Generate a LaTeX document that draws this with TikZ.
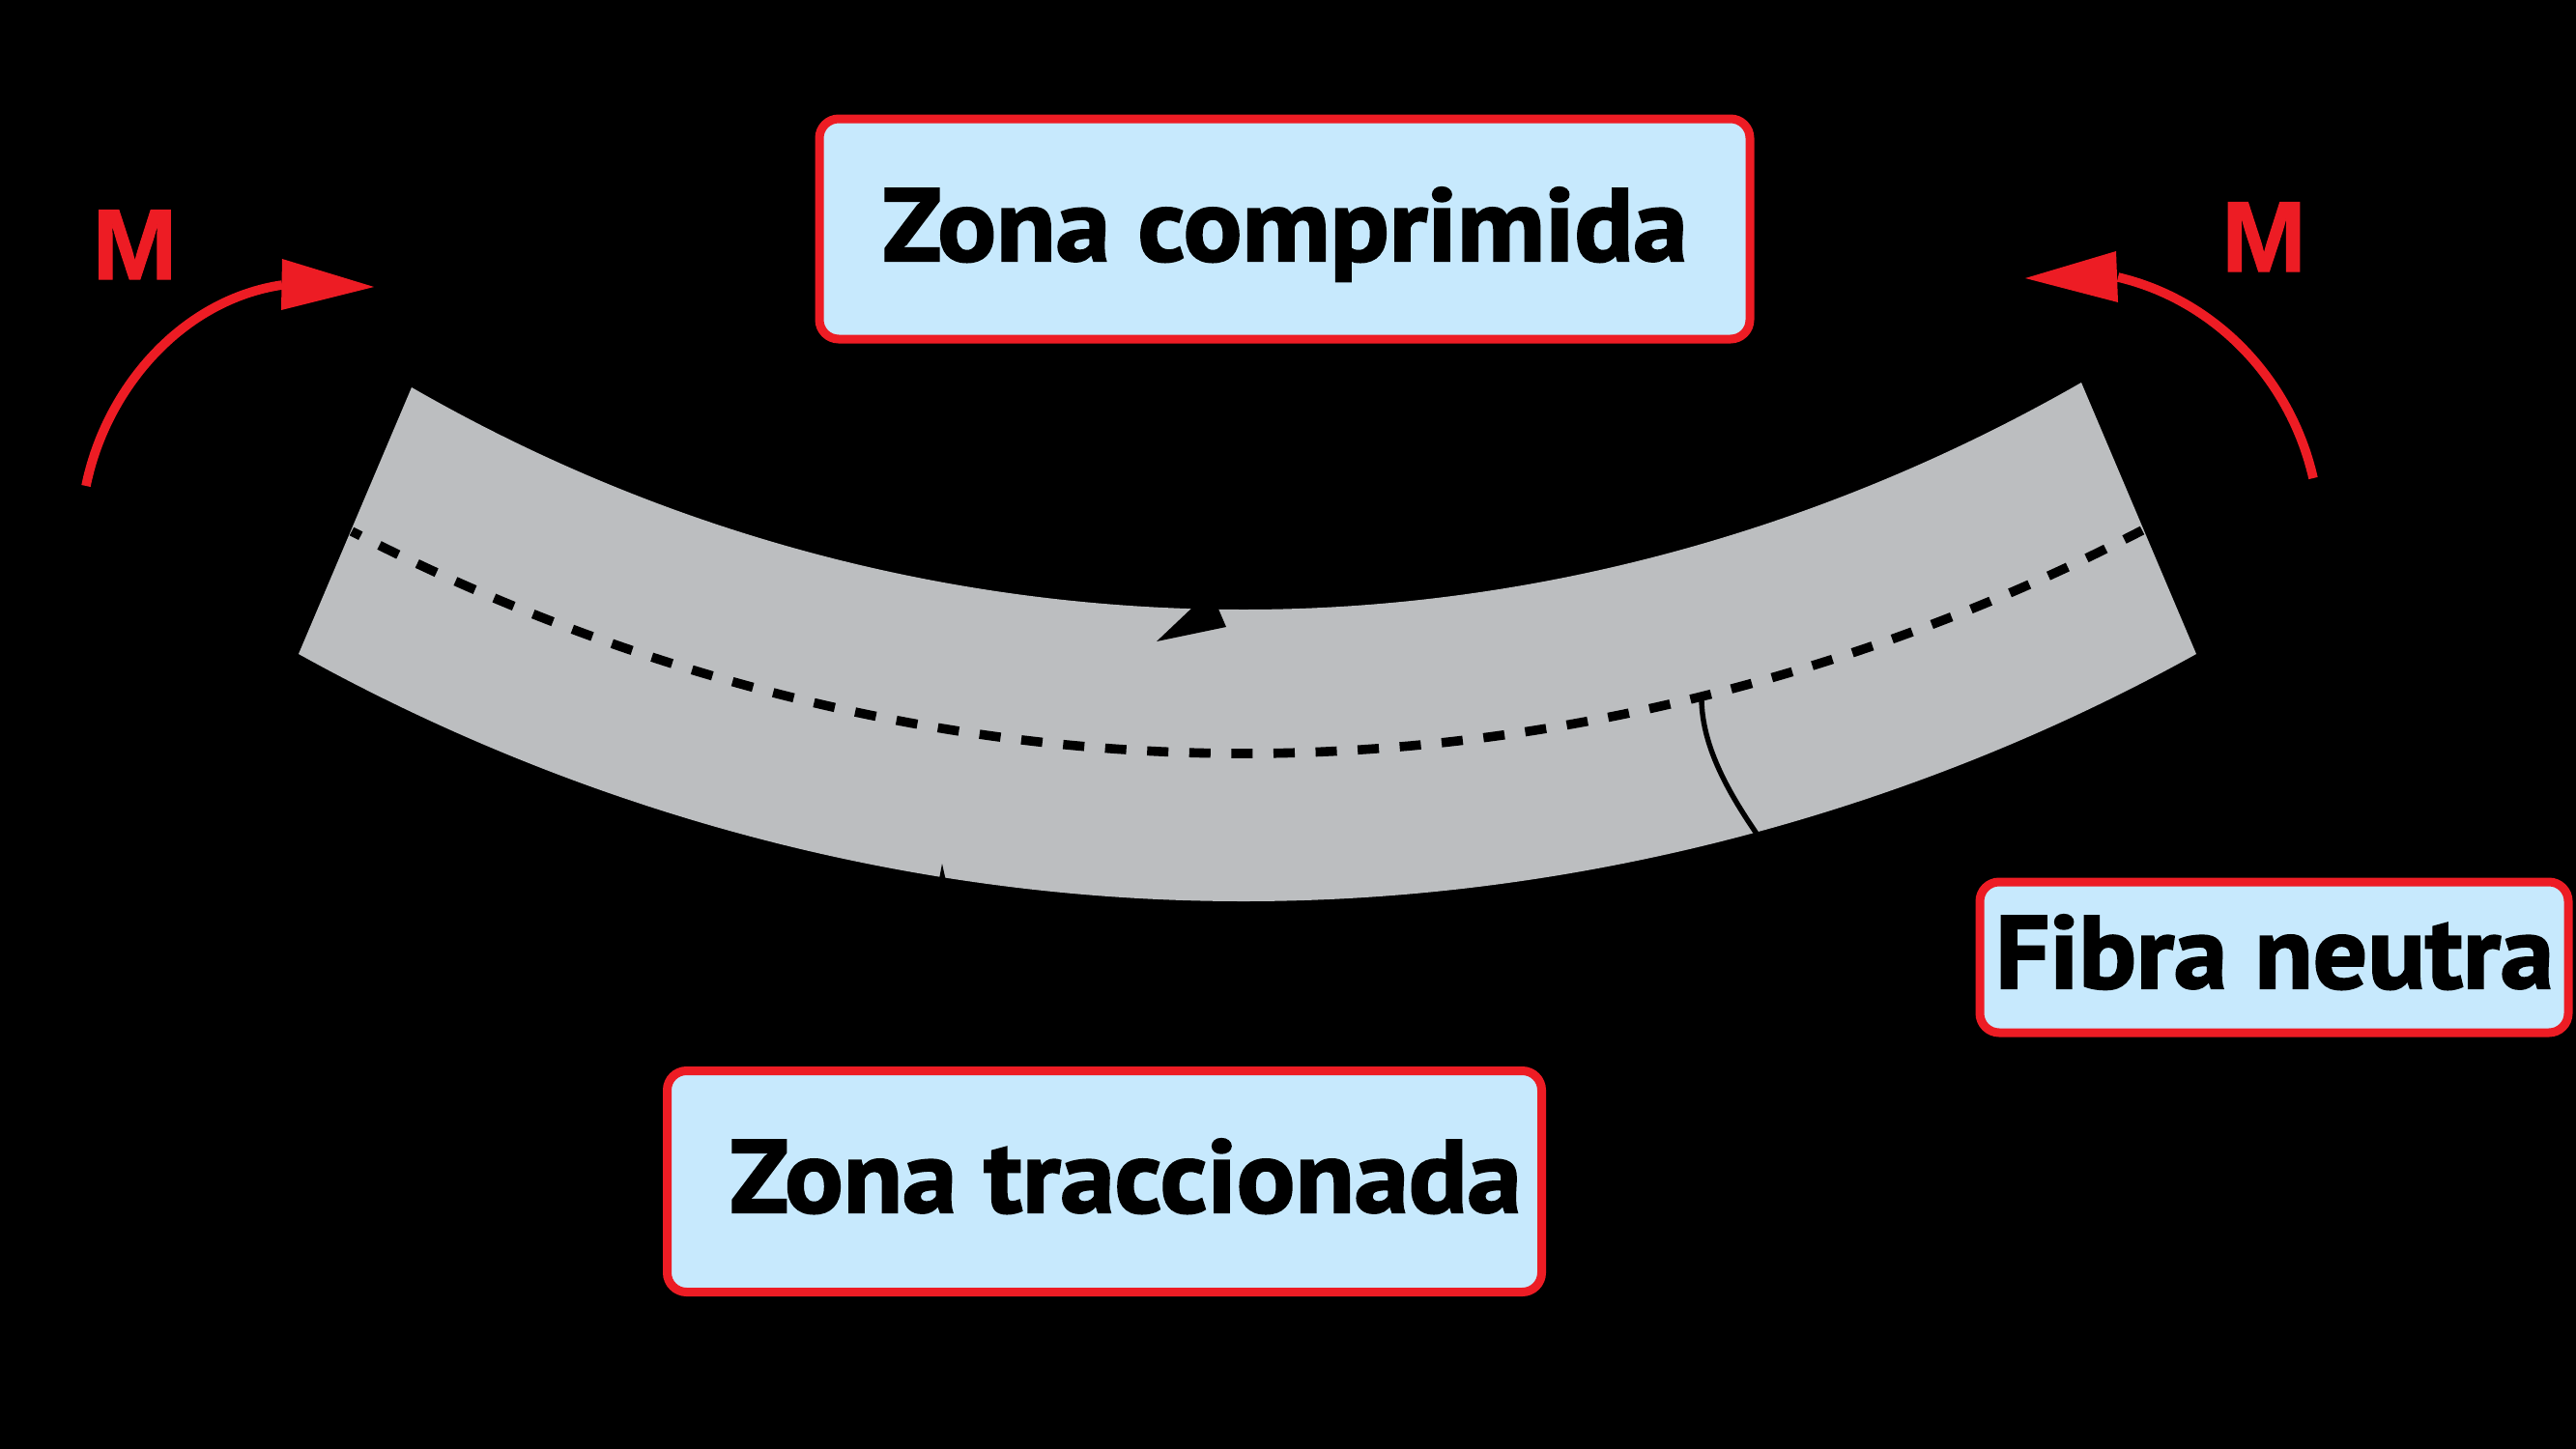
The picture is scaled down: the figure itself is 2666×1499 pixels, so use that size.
\documentclass[tikz,border=0pt]{standalone}
\usepackage{graphicx}
\usepackage{fontspec}
\newfontfamily\lblfont[BoldFeatures={FakeBold=1.9}]{PT Sans}
\newfontfamily\mfont[BoldFeatures={FakeBold=1}]{Liberation Sans}
\definecolor{redline}{HTML}{ED1C24}
\definecolor{boxfill}{HTML}{C7E9FD}
\definecolor{beamgrey}{HTML}{BCBEC0}
\tikzset{
  px/.style={x=0.5pt,y=-0.5pt},
  labelbox/.style={draw=redline,fill=boxfill,line width=4.5pt,rounded corners=10pt,minimum width=#1,inner sep=0pt},
  boxtext/.style={anchor=base,inner sep=0pt,outer sep=0pt,text=black,font=\fontsize{53.5pt}{60pt}\lblfont\bfseries},
  momenttext/.style={anchor=base,inner sep=0pt,outer sep=0pt,text=redline,font=\fontsize{52pt}{60pt}\mfont\bfseries},
  momentline/.style={draw=redline,line width=4.8pt},
  momenthead/.style={fill=redline,draw=none},
  neutral/.style={draw=black,line width=4.8pt,dash pattern=on 11pt off 10.8pt,dash phase=5.8pt},
  marker/.style={fill=black,draw=none}
}
\begin{document}
\begin{tikzpicture}[px]
\useasboundingbox (0,0) rectangle (2666,1499);
\fill[black] (-20,-20) rectangle (2686,1519);
% beam
\coordinate (tl) at (426,401);
\coordinate (tm) at (1287,631);
\coordinate (tr) at (2154,396);
\coordinate (br) at (2273,677);
\coordinate (bm) at (1287,933);
\coordinate (bl) at (309,677);
\fill[beamgrey] (tl) .. controls (688,552) and (984,631) .. (tm)
  .. controls (1590,631) and (1889,548) .. (tr) -- (br)
  .. controls (1974,843) and (1629,933) .. (bm)
  .. controls (945,933) and (608,843) .. (bl) -- cycle;
% neutral fibre
\coordinate (nl) at (364,550);
\coordinate (nm) at (1287,780);
\coordinate (nr) at (2217,549);
\draw[neutral] (nl) .. controls (649,697) and (967,780) .. (nm)
  .. controls (1607,780) and (1932,697) .. (nr);
% marks of the connectors on the beam
\coordinate (fa) at (1761,725);
\coordinate (fb) at (1818,863);
\draw[black,line width=2.7pt] (fa) .. controls (1762,770) and (1785,815) .. (fb);
\fill[marker] (1197,664) -- (1235,628) -- (1260,628) -- (1269,649) -- cycle;
\fill[marker] (972,910) -- (975,894) -- (979,912) -- cycle;
% moments
\coordinate (la) at (89,503);
\coordinate (lb) at (292,295);
\draw[momentline] (la) .. controls (110,400) and (190,310) .. (lb);
\fill[momenthead] (292,268) -- (387,297) -- (291,321) -- cycle;
\coordinate (ra) at (2394,495);
\coordinate (rb) at (2192,287);
\draw[momentline] (ra) .. controls (2370,390) and (2290,310) .. (rb);
\fill[momenthead] (2190,260) -- (2096,288) -- (2192,313) -- cycle;
\node[momenttext] (ml) at (139.5,289) {\resizebox{44pt}{\height}{M}};
\node[momenttext] (mr) at (2343,281) {\resizebox{44pt}{\height}{M}};
% boxes
\node[labelbox=481.5pt,minimum height=114pt] (zc) at (1329.5,237) {};
\node[labelbox=452.5pt,minimum height=114.5pt] (zt) at (1143,1223) {};
\node[labelbox=304.5pt,minimum height=78pt] (fn) at (2353.5,991) {};
\node[boxtext] (zct) at (1330,270) {\resizebox{416.5pt}{\height}{Zona comprimida}};
\node[boxtext] (ztt) at (1165,1255) {\resizebox{409.5pt}{\height}{Zona traccionada}};
\node[boxtext] (fnt) at (2354,1023) {\resizebox{289pt}{\height}{Fibra neutra}};
\end{tikzpicture}
\end{document}
